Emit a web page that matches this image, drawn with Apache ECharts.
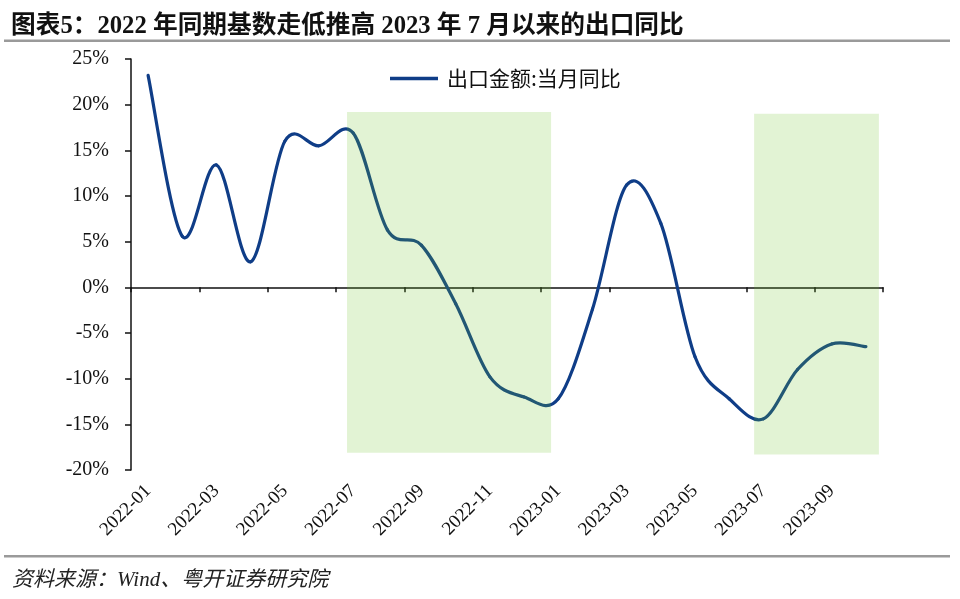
<!DOCTYPE html>
<html>
<head>
<meta charset="utf-8">
<script src="https://cdn.jsdelivr.net/npm/echarts@6/dist/echarts.min.js"></script>
<style>html,body{margin:0;padding:0;background:#fff}#c{width:960px;height:599px}</style>
</head>
<body>
<div id="c"></div>
<script>
const categories = ['2022-01','2022-02','2022-03','2022-04','2022-05','2022-06','2022-07','2022-08','2022-09','2022-10','2022-11','2022-12','2023-01','2023-02','2023-03','2023-04','2023-05','2023-06','2023-07','2023-08','2023-09','2023-10'];
const exportYoY = [23.2, 5.6, 13.4, 2.8, 16.0, 15.5, 16.9, 6.3, 4.6, -1.8, -9.8, -12.0, -12.2, -2.4, 11.2, 7.0, -7.6, -12.2, -14.4, -9.0, -6.2, -6.5];
const seriesName = '出口金额:当月同比';
const yTicks = {min: -20, max: 25, step: 5};
// shaded periods, in month-index units along the x axis, and value extents
const shadeX = [[6.32, 12.29], [18.23, 21.88]];
const shadeY = [[19.2, -18.1], [19.0, -18.3]];
const titleText = '图表5：2022 年同期基数走低推高 2023 年 7 月以来的出口同比';
const sourceText = '资料来源：Wind、粤开证券研究院';

const serif = '"Liberation Serif", "Times New Roman", "Noto Sans CJK SC", serif';
const lineColor = '#0f3d87';
const chart = echarts.init(document.getElementById('c'), null, {renderer: 'canvas'});
const shadeData = shadeX.map((r, i) => [{xAxis: r[0], yAxis: shadeY[i][0]}, {xAxis: r[1], yAxis: shadeY[i][1]}]);
const n = exportYoY.length;

// Excel-like smoothed line: each item draws its own Catmull-Rom segment to the next point
function renderSegment(params, api) {
  const i = params.dataIndex;
  if (i >= n - 1) return null;
  const P = k => { const j = Math.max(0, Math.min(n - 1, k)); return api.coord([j, exportYoY[j]]); };
  const p0 = P(i - 1), p1 = P(i), p2 = P(i + 1), p3 = P(i + 2);
  return {
    type: 'bezierCurve',
    shape: {
      x1: p1[0], y1: p1[1], x2: p2[0], y2: p2[1],
      cpx1: p1[0] + (p2[0] - p0[0]) / 6, cpy1: p1[1] + (p2[1] - p0[1]) / 6,
      cpx2: p2[0] - (p3[0] - p1[0]) / 6, cpy2: p2[1] - (p3[1] - p1[1]) / 6
    },
    style: {stroke: lineColor, lineWidth: 3.2, fill: null, lineCap: 'round'}
  };
}

chart.setOption({
  animation: false,
  backgroundColor: '#fff',
  title: [
    {text: titleText, left: 6, top: 9, textStyle: {fontFamily: serif, fontWeight: 'bold', fontSize: 24.7, color: '#111'}},
    {text: sourceText, left: 7, top: 565, textStyle: {fontFamily: serif, fontStyle: 'italic', fontWeight: 'normal', fontSize: 21, color: '#222'}}
  ],
  graphic: [
    {type: 'rect', shape: {x: 4, y: 39.5, width: 946, height: 2.5}, style: {fill: '#9a9a9a'}, silent: true},
    {type: 'rect', shape: {x: 4, y: 555, width: 946, height: 2.5}, style: {fill: '#9a9a9a'}, silent: true}
  ],
  legend: {
    left: 385, top: 63,
    itemWidth: 48, itemHeight: 3.5,
    data: [{name: seriesName, icon: 'rect'}],
    textStyle: {fontFamily: '"Noto Sans CJK SC", sans-serif', fontSize: 21, color: '#111', padding: [0, 0, 0, 4]}
  },
  grid: {left: 131, right: 77, top: 59, bottom: 129, containLabel: false},
  xAxis: [
    {
      type: 'category', data: categories, position: 'bottom', boundaryGap: true,
      axisLine: {show: false, onZero: false}, axisTick: {show: false},
      axisLabel: {interval: 1, rotate: 45, margin: 18, fontFamily: serif, fontSize: 19, color: '#111'}
    },
    {
      type: 'category', data: categories, position: 'bottom', boundaryGap: true,
      axisLine: {show: true, onZero: true, lineStyle: {color: '#111', width: 1.5}},
      axisTick: {show: true, interval: 1, length: 5, inside: false, lineStyle: {color: '#111', width: 1.5}},
      axisLabel: {show: false}
    },
    {type: 'value', min: 0, max: categories.length, show: false}
  ],
  yAxis: {
    type: 'value', min: yTicks.min, max: yTicks.max, interval: yTicks.step,
    axisLine: {show: true, lineStyle: {color: '#111', width: 1.5}},
    axisTick: {show: true, length: 6, lineStyle: {color: '#111', width: 1.5}},
    splitLine: {show: false},
    axisLabel: {formatter: '{value}%', fontFamily: serif, fontSize: 20, color: '#111', margin: 22}
  },
  series: [
    {
      name: seriesName, type: 'custom', xAxisIndex: 0, z: 2,
      data: exportYoY.map((v, i) => [i, v]),
      encode: {x: 0, y: 1},
      itemStyle: {color: lineColor},
      renderItem: renderSegment
    },
    {
      name: 'shade', type: 'line', data: [], xAxisIndex: 2, z: 5, silent: true,
      markArea: {silent: true, z: 10, itemStyle: {color: 'rgba(110,195,40,0.2)'}, data: shadeData}
    }
  ]
});
</script>
</body>
</html>
